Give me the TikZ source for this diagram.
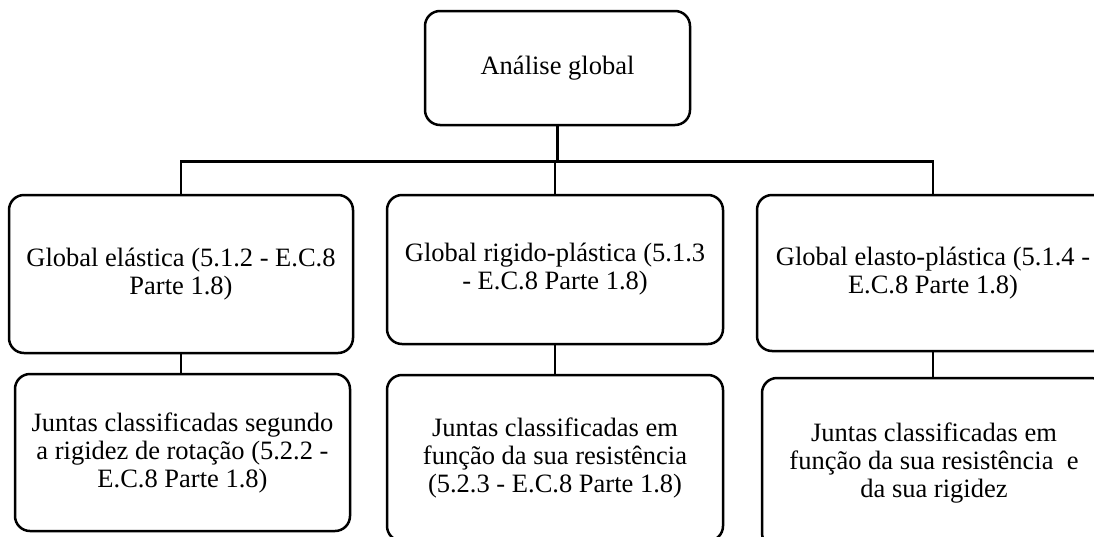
\documentclass[tikz,border=0pt]{standalone}
\usepackage{fontspec}
\setmainfont{Liberation Serif}
\usetikzlibrary{calc}
\begin{document}
\begin{tikzpicture}[x=1pt,y=-1pt,
  box/.style={draw=black, line width=2.5pt, rounded corners=15pt, align=center,
    font=\fontsize{26.5}{28}\selectfont, inner sep=0pt, anchor=center},
  link/.style={draw=black, line width=2.5pt}]
\useasboundingbox (0,0) rectangle (1094,536);
\clip (0,0) rectangle (1094,536);
\node[box, minimum width=265pt, minimum height=114pt] (top) at (557.5,68) {Análise global};
\node[box, minimum width=344pt, minimum height=158pt] (L1) at (181,274) {Global elástica (5.1.2 - E.C.8\\Parte 1.8)};
\node[box, minimum width=336pt, minimum height=149pt] (M1) at (555,269.5) {Global rigido-plástica (5.1.3\\- E.C.8 Parte 1.8)};
\node[box, minimum width=352pt, minimum height=156pt] (R1) at (933,273) {Global elasto-plástica (5.1.4 -\\E.C.8 Parte 1.8)};
\node[box, minimum width=335pt, minimum height=157pt] (L2) at (182.5,452.5) {Juntas classificadas segundo\\a rigidez de rotação (5.2.2 -\\E.C.8 Parte 1.8)};
\node[box, minimum width=336pt, minimum height=166pt] (M2) at (555,458) {Juntas classificadas em\\função da sua resistência\\(5.2.3 - E.C.8 Parte 1.8)};
\node[box, minimum width=344pt, minimum height=170pt] (R2) at (934,463) {Juntas classificadas em\\função da sua resistência \ e\\da sua rigidez};
\coordinate (bus) at ($(top.south)+(0,35)$);
\draw[link] (top.south) -- (bus);
\draw[link] (L1.north) |- (bus) -| (R1.north);
\draw[link] (M1.north) -- (M1.north |- bus);
\draw[link] (L1.south) -- (L1.south |- L2.north);
\draw[link] (M1.south) -- (M1.south |- M2.north);
\draw[link] (R1.south) -- (R1.south |- R2.north);
\end{tikzpicture}
\end{document}
